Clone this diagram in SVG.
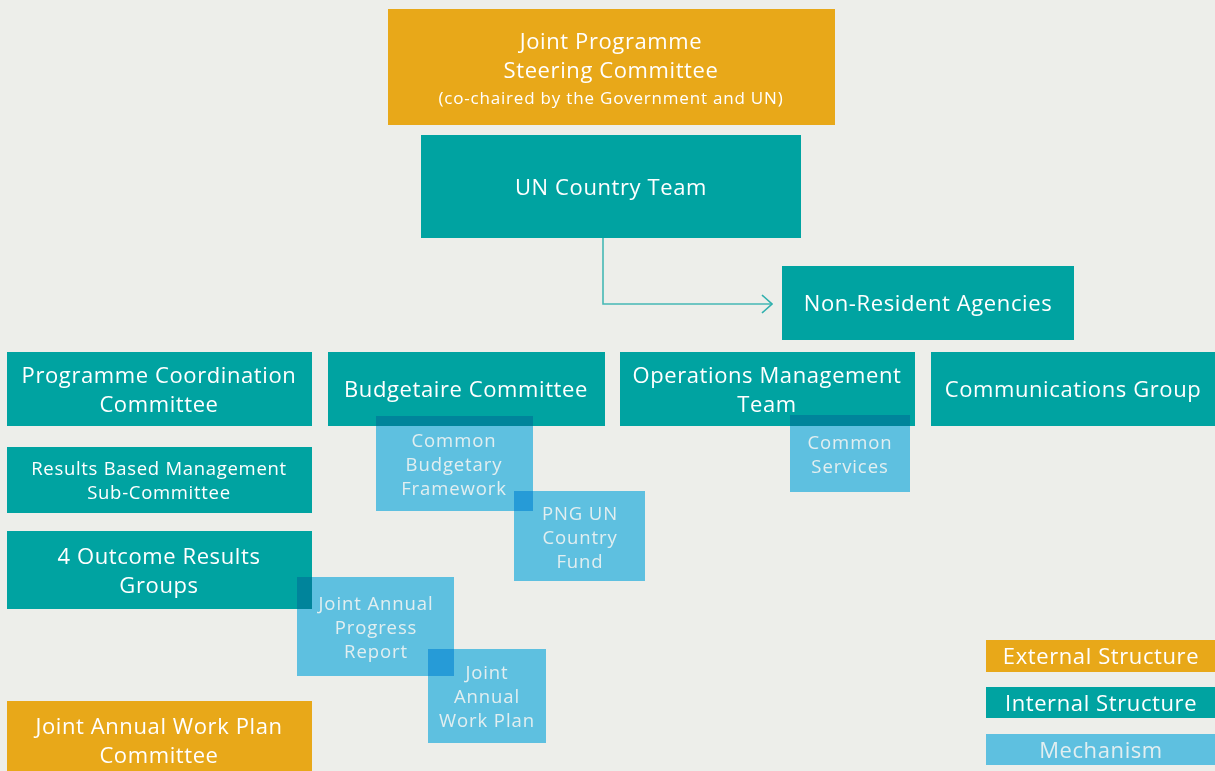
<svg xmlns="http://www.w3.org/2000/svg" width="1215" height="771" viewBox="0 0 1215 771">
<defs>
<style>
.ext{fill:#E8A819}
.int{fill:#00A3A1}
.mech{fill:#65CEF5;mix-blend-mode:multiply}
text{font-family:"Open Sans","Liberation Sans",sans-serif;text-anchor:middle;fill:#FFFFFF}
.t{font-size:22px;letter-spacing:0.6px}
.s{font-size:17px;letter-spacing:0.8px}
.m{font-size:18.5px;letter-spacing:0.7px}
.mt{font-size:18.5px;letter-spacing:0.9px;fill:#E2EEF0}
.conn{fill:none;stroke:#45B8B5;stroke-width:1.6}
</style>
<marker id="chev" viewBox="0 0 12 20" markerWidth="12" markerHeight="20" refX="11" refY="10" orient="auto" markerUnits="userSpaceOnUse">
<path d="M1,1 L11,10 L1,19" fill="none" stroke="#2FB0AD" stroke-width="1.6"/>
</marker>
</defs>
<rect width="1215" height="771" fill="#EDEEEA"/>

<g id="connectors">
<path class="conn" d="M603,238 V304 H772" marker-end="url(#chev)"/>
</g>

<g id="steering">
<rect class="ext" x="388" y="9" width="447" height="116"/>
<text class="t" x="611" y="49">Joint Programme</text>
<text class="t" x="611" y="78">Steering Committee</text>
<text class="s" x="611" y="104">(co-chaired by the Government and UN)</text>
</g>

<g id="uncountryteam">
<rect class="int" x="421" y="135" width="380" height="103"/>
<text class="t" x="611" y="195">UN Country Team</text>
</g>

<g id="nonresident">
<rect class="int" x="782" y="266" width="292" height="74"/>
<text class="t" x="928" y="311">Non-Resident Agencies</text>
</g>

<g id="progcoord">
<rect class="int" x="7" y="352" width="305" height="74"/>
<text class="t" x="159" y="383">Programme Coordination</text>
<text class="t" x="159" y="412">Committee</text>
</g>

<g id="budgetaire">
<rect class="int" x="328" y="352" width="277" height="74"/>
<text class="t" x="466" y="397">Budgetaire Committee</text>
</g>

<g id="operations">
<rect class="int" x="620" y="352" width="295" height="74"/>
<text class="t" x="767" y="383">Operations Management</text>
<text class="t" x="767" y="412">Team</text>
</g>

<g id="communications">
<rect class="int" x="931" y="352" width="284" height="74"/>
<text class="t" x="1073" y="397">Communications Group</text>
</g>

<g id="rbm">
<rect class="int" x="7" y="447" width="305" height="66"/>
<text class="m" x="159" y="475">Results Based Management</text>
<text class="m" x="159" y="499">Sub-Committee</text>
</g>

<g id="outcome">
<rect class="int" x="7" y="531" width="305" height="78"/>
<text class="t" x="159" y="564">4 Outcome Results</text>
<text class="t" x="159" y="593">Groups</text>
</g>

<g id="jawpc">
<rect class="ext" x="7" y="701" width="305" height="75"/>
<text class="t" x="159" y="734">Joint Annual Work Plan</text>
<text class="t" x="159" y="763">Committee</text>
</g>

<g id="cbf">
<rect class="mech" x="376" y="416" width="157" height="95"/>
<text class="mt" x="454" y="447">Common</text>
<text class="mt" x="454" y="471">Budgetary</text>
<text class="mt" x="454" y="495">Framework</text>
</g>

<g id="pngfund">
<rect class="mech" x="514" y="491" width="131" height="90"/>
<text class="mt" x="580" y="520">PNG UN</text>
<text class="mt" x="580" y="544">Country</text>
<text class="mt" x="580" y="568">Fund</text>
</g>

<g id="commonservices">
<rect class="mech" x="790" y="415" width="120" height="77"/>
<text class="mt" x="850" y="449">Common</text>
<text class="mt" x="850" y="473">Services</text>
</g>

<g id="japr">
<rect class="mech" x="297" y="577" width="157" height="99"/>
<text class="mt" x="376" y="610">Joint Annual</text>
<text class="mt" x="376" y="634">Progress</text>
<text class="mt" x="376" y="658">Report</text>
</g>

<g id="jawp">
<rect class="mech" x="428" y="649" width="118" height="94"/>
<text class="mt" x="487" y="679">Joint</text>
<text class="mt" x="487" y="703">Annual</text>
<text class="mt" x="487" y="727">Work Plan</text>
</g>

<g id="legend">
<rect class="ext" x="986" y="640" width="229" height="32"/>
<text class="t" x="1101" y="664">External Structure</text>
<rect class="int" x="986" y="687" width="229" height="31"/>
<text class="t" x="1101" y="711">Internal Structure</text>
<rect class="mech" x="986" y="734" width="229" height="31"/>
<text class="t" x="1101" y="758" style="fill:#E2EEF0">Mechanism</text>
</g>
</svg>
